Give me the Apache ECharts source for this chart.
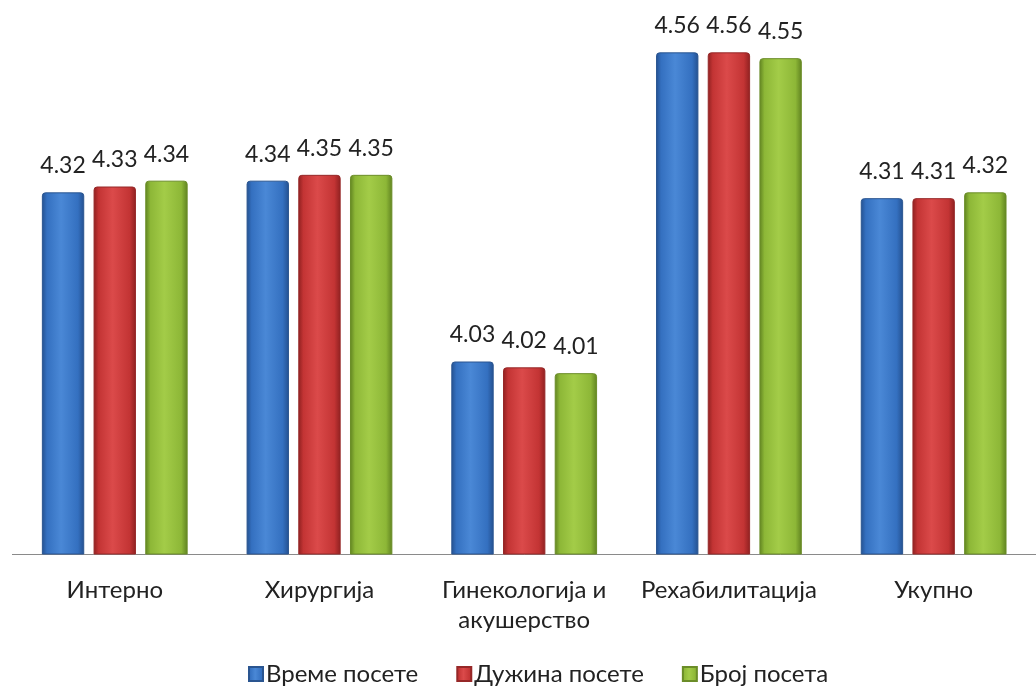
<!DOCTYPE html>
<html>
<head>
<meta charset="utf-8">
<style>
  html, body { margin: 0; padding: 0; background: #fff; }
  #chart { width: 1036px; height: 691px; }
</style>
<script src="https://cdn.jsdelivr.net/npm/echarts@6/dist/echarts.min.js"></script>
</head>
<body>
<div id="chart"></div>
<script>
// Department categories and the three rating series
const categories = ['Интерно', 'Хирургија', 'Гинекологија и\nакушерство', 'Рехабилитација', 'Укупно'];
const seriesNames = ['Време посете', 'Дужина посете', 'Број посета'];
const vremePosete = [4.32, 4.34, 4.03, 4.56, 4.31];
const duzinaPosete = [4.33, 4.35, 4.02, 4.56, 4.31];
const brojPoseta = [4.34, 4.35, 4.01, 4.55, 4.32];

const FONT = 'Lato, "Open Sans", sans-serif';

// cylinder-like shading: darker edges, lighter centre
function shade(edge, mid, light) {
  return new echarts.graphic.LinearGradient(0, 0, 1, 0, [
    { offset: 0, color: edge },
    { offset: 0.12, color: mid },
    { offset: 0.45, color: light },
    { offset: 0.85, color: mid },
    { offset: 1, color: edge }
  ]);
}

const palettes = [
  { edge: '#24508f', mid: '#3470c0', light: '#4a88d6', border: '#2a5590' },
  { edge: '#8e2020', mid: '#c33434', light: '#db4a4a', border: '#962828' },
  { edge: '#5f8220', mid: '#8db737', light: '#a3cc48', border: '#6b8d28' }
];

const dataSets = [vremePosete, duzinaPosete, brojPoseta];

const chart = echarts.init(document.getElementById('chart'));
chart.setOption({
  backgroundColor: '#ffffff',
  animation: false,
  grid: { left: 12.4, top: 29, width: 1036.5, height: 525, containLabel: false },
  legend: {
    bottom: 0,
    left: 243,
    itemWidth: 14,
    itemHeight: 14,
    itemGap: 38,
    icon: 'rect',
    textStyle: { fontFamily: FONT, fontSize: 24, color: '#222', padding: [0, 0, 0, -2] },
    data: seriesNames
  },
  xAxis: {
    type: 'category',
    data: categories,
    axisLine: { lineStyle: { color: '#8a8a8a', width: 1 } },
    axisTick: { show: false },
    axisLabel: {
      interval: 0,
      margin: 21,
      fontFamily: FONT,
      fontSize: 24,
      lineHeight: 30,
      color: '#222'
    }
  },
  yAxis: {
    type: 'value',
    min: 3.7,
    max: 4.6,
    show: false,
    splitLine: { show: false }
  },
  series: dataSets.map((d, i) => ({
    name: seriesNames[i],
    type: 'bar',
    data: d,
    barWidth: '20.7%',
    barGap: '22%',
    itemStyle: {
      color: shade(palettes[i].edge, palettes[i].mid, palettes[i].light),
      borderColor: palettes[i].border,
      borderWidth: 1,
      borderRadius: [3, 3, 0, 0]
    },
    label: {
      show: true,
      position: 'top',
      distance: 15,
      fontFamily: FONT,
      fontSize: 23,
      color: '#222',
      formatter: p => p.value.toFixed(2)
    }
  }))
});
</script>
</body>
</html>
